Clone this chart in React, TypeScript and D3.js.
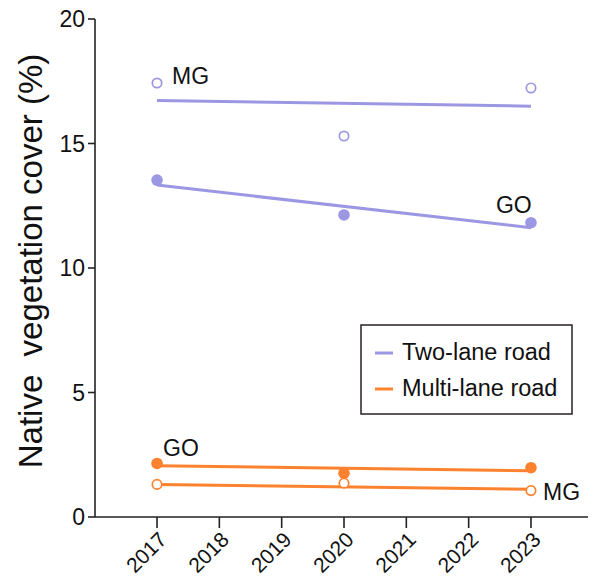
import React from "react";
import * as d3 from "d3";

const years = [2017, 2020, 2023];
const trendYears = [2017, 2023];
const xTicks = [2017, 2018, 2019, 2020, 2021, 2022, 2023];
const yTicks = [0, 5, 10, 15, 20];

const twoLaneMG = [17.43, 15.3, 17.23];
const twoLaneGO = [13.53, 12.13, 11.82];
const multiLaneGO = [2.15, 1.76, 1.98];
const multiLaneMG = [1.31, 1.36, 1.06];

const twoLaneMGTrend = [16.73, 16.5];
const twoLaneGOTrend = [13.33, 11.62];
const multiLaneGOTrend = [2.06, 1.86];
const multiLaneMGTrend = [1.31, 1.11];

const seriesNames = ["Two-lane road", "Multi-lane road"];
const PURPLE = "#9b97e2";
const ORANGE = "#fd8230";
const FONT = "'Liberation Sans', Arial, Helvetica, sans-serif";

export default function App() {
  const W = 596, H = 581;
  const x = d3.scaleLinear().domain([2016, 2024]).range([94.7, 593.3]);
  const y = d3.scaleLinear().domain([0, 20]).range([517, 19]);
  const line = d3.line<[number, number]>().x(d => x(d[0])).y(d => y(d[1]));

  const groups = [
    { color: PURPLE, pts: twoLaneMG, trend: twoLaneMGTrend, filled: false },
    { color: PURPLE, pts: twoLaneGO, trend: twoLaneGOTrend, filled: true },
    { color: ORANGE, pts: multiLaneGO, trend: multiLaneGOTrend, filled: true },
    { color: ORANGE, pts: multiLaneMG, trend: multiLaneMGTrend, filled: false },
  ];

  return (
    <svg width={W} height={H} style={{ position: "absolute", left: 0, top: 0, background: "#fff" }} fontFamily={FONT}>
      {/* axes */}
      <line x1={95} x2={95} y1={y(20)} y2={517} stroke="#222" strokeWidth={1.6} />
      <line x1={95} x2={588} y1={517} y2={517} stroke="#222" strokeWidth={1.6} />
      {yTicks.map(t => (
        <g key={t}>
          <line x1={88} x2={95} y1={y(t)} y2={y(t)} stroke="#222" strokeWidth={1.6} />
          <text x={85} y={y(t)} dy="0.36em" textAnchor="end" fontSize={23} fill="#111">{t}</text>
        </g>
      ))}
      {xTicks.map(t => (
        <g key={t}>
          <line x1={x(t)} x2={x(t)} y1={517} y2={528} stroke="#222" strokeWidth={1.6} />
          <text transform={`translate(${x(t) + 11},${541}) rotate(-45)`} textAnchor="end" fontSize={21} fill="#111">{t}</text>
        </g>
      ))}
      <text transform={`translate(42,${261}) rotate(-90)`} textAnchor="middle" fontSize={33} fill="#111" style={{ whiteSpace: "pre" }}>
        {"Native  vegetation cover (%)"}
      </text>

      {/* trend lines */}
      {groups.map((g, i) => (
        <path key={"t" + i} d={line(trendYears.map((yr, j) => [yr, g.trend[j]] as [number, number])) || ""} fill="none" stroke={g.color} strokeWidth={3} />
      ))}
      {/* points */}
      {groups.map((g, i) =>
        g.pts.map((v, j) => (
          <circle key={`p${i}-${j}`} cx={x(years[j])} cy={y(v)} r={g.filled ? 5.8 : 4.7}
            fill={g.filled ? g.color : "#fff"} stroke={g.color} strokeWidth={g.filled ? 0 : 1.7} />
        ))
      )}

      {/* annotations */}
      <text x={x(2017) + 15} y={y(twoLaneMG[0]) + 1} fontSize={23} fill="#111">MG</text>
      <text x={x(2023) - 35} y={y(twoLaneGO[2]) - 10} fontSize={23} fill="#111">GO</text>
      <text x={x(2017) + 6} y={y(multiLaneGO[0]) - 7} fontSize={23} fill="#111">GO</text>
      <text x={x(2023) + 12} y={y(multiLaneMG[2]) + 9} fontSize={23} fill="#111">MG</text>

      {/* legend */}
      <rect x={361} y={325} width={211} height={89} fill="#fff" stroke="#2a2020" strokeWidth={1.5} />
      {seriesNames.map((n, i) => (
        <g key={n}>
          <line x1={375} x2={393} y1={353 + i * 36} y2={353 + i * 36} stroke={i === 0 ? PURPLE : ORANGE} strokeWidth={3} />
          <text x={402} y={360 + i * 36} fontSize={23.5} fill="#111">{n}</text>
        </g>
      ))}
    </svg>
  );
}
